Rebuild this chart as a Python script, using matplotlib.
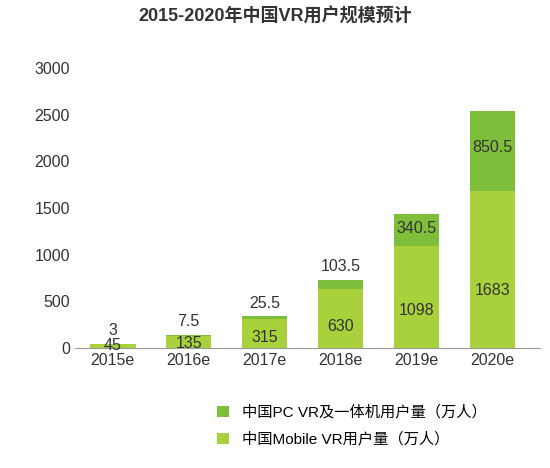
import matplotlib
matplotlib.use("Agg")
import matplotlib.pyplot as plt
import numpy as np

plt.rcParams["font.family"] = ["Liberation Sans", "Noto Sans CJK SC", "DejaVu Sans"]

years = ["2015e", "2016e", "2017e", "2018e", "2019e", "2020e"]
mobile = [45, 135, 315, 630, 1098, 1683]
pc = [3, 7.5, 25.5, 103.5, 340.5, 850.5]
pc_text = ["3", "7.5", "25.5", "103.5", "340.5", "850.5"]

c_mobile = "#a9d13c"
c_pc = "#7dbf3b"

fig = plt.figure(figsize=(5.5, 4.68), dpi=100)
ax = fig.add_axes([0.136, 0.256, 0.846, 0.599])
x = np.arange(len(years))
ax.bar(x, mobile, width=0.6, color=c_mobile, label="中国Mobile VR用户量（万人）")
ax.bar(x, pc, width=0.6, bottom=mobile, color=c_pc, label="中国PC VR及一体机用户量（万人）")

for i in range(len(years)):
    ax.text(x[i], max(mobile[i] * 0.37, 10 + mobile[i] * 0.3), str(mobile[i]),
            ha="center", va="center", fontsize=11.5, color="#333333")
    top = mobile[i] + pc[i]
    if pc[i] > 200:
        ax.text(x[i], mobile[i] + pc[i] * 0.55, pc_text[i], ha="center", va="center",
                fontsize=11.5, color="#333333")
    else:
        ax.annotate(pc_text[i], (x[i], top), xytext=(0, 4), textcoords="offset points",
                    ha="center", va="bottom", fontsize=11.5, color="#333333")

ax.set_xlim(-0.5, 5.63)
ax.set_ylim(0, 3000)
ax.set_yticks(range(0, 3001, 500))
ax.set_xticks(x)
ax.set_xticklabels(years)
ax.tick_params(length=0, labelsize=11.5, colors="#333333")
for s in ["top", "right", "left"]:
    ax.spines[s].set_visible(False)
ax.spines["bottom"].set_color("#999999")

fig.text(0.5, 0.965, "2015-2020年中国VR用户规模预计", ha="center", va="center",
         fontsize=13, fontweight="bold", color="#333333")

h, l = ax.get_legend_handles_labels()
fig.legend(h[::-1], l[::-1], loc="center left", bbox_to_anchor=(0.37, 0.09),
           frameon=False, fontsize=11, handlelength=0.8, handleheight=0.8,
           labelspacing=0.8)

fig.savefig("out.png")
